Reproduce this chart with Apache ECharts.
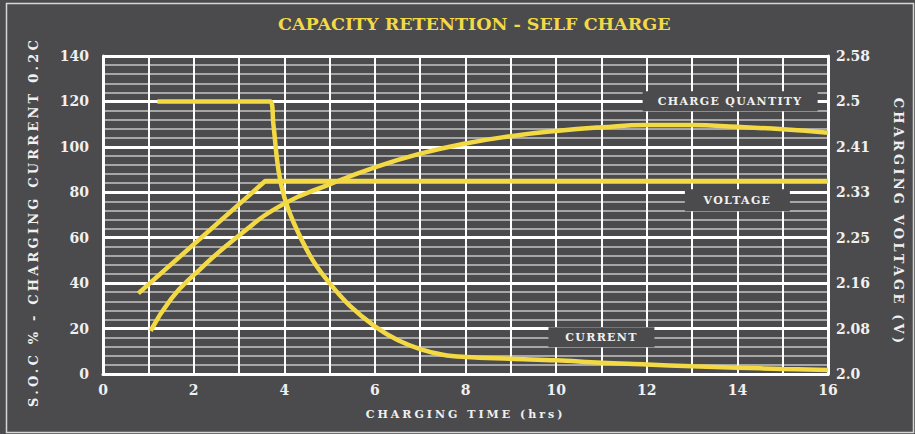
<!DOCTYPE html>
<html>
<head>
<meta charset="utf-8">
<title>Capacity retention - self charge</title>
<script src="https://cdn.jsdelivr.net/npm/echarts@6.0.0/dist/echarts.min.js"></script>
<style>
  html, body { margin: 0; padding: 0; background: #4b4b4d; }
  #chart { width: 915px; height: 434px; }
</style>
</head>
<body>
<div id="chart"></div>
<script>
// data (x = charging time in hrs)
var xTicks = [0, 2, 4, 6, 8, 10, 12, 14, 16];
var socTicks = [0, 20, 40, 60, 80, 100, 120, 140];
var voltTicks = ['2.0', '2.08', '2.16', '2.25', '2.33', '2.41', '2.5', '2.58'];

// S.O.C % (left axis)
var chargeQuantity = [
  [1.05, 19], [1.5, 33], [2, 43.5], [3, 61], [4, 75], [5, 83.5], [6, 91],
  [7, 97], [8, 101.5], [9, 104.7], [10, 107], [11, 108.6], [12, 109.6],
  [13, 109.6], [14, 108.8], [15, 107.7], [16, 106.2]
];
// charging current (left axis)
var current = [
  [1.2, 120], [3.69, 120], [3.76, 110], [3.87, 90], [4, 78], [4.2, 67],
  [4.6, 51], [5, 40], [5.45, 30], [6, 21], [6.5, 15], [7, 11], [7.5, 8.5],
  [8, 7.5], [9, 6.7], [10, 6.0], [11, 4.9], [12, 4.2], [13, 3.4], [14, 2.8],
  [15, 2.2], [16, 1.8]
];
// charging voltage in V (right axis)
var voltage = [
  [0.78, 2.147], [3.58, 2.352], [16, 2.352]
];

// text boxes sitting on the grid: [label, x, y on left axis]
var boxLabels = [
  ['CHARGE QUANTITY', 13.84, 120.1],
  ['VOLTAGE', 14.0, 76.5],
  ['CURRENT', 11.0, 16.2]
];

(function() {
  var bg = '#4b4b4d';
  var yellow = '#f3da45';
  var font = "'DejaVu Serif', serif";
  var myChart = echarts.init(document.getElementById('chart'), null, { renderer: 'svg' });

  var boxSizes = { 'CHARGE QUANTITY': [175, 20], 'VOLTAGE': [105, 22], 'CURRENT': [106, 20] };

  var option = {
    backgroundColor: bg,
    animation: false,
    textStyle: { fontFamily: font },
    title: {
      text: 'CAPACITY RETENTION - SELF CHARGE',
      left: 273,
      top: 10,
      textStyle: { color: yellow, fontSize: 17.5, fontWeight: 'bold', fontFamily: font }
    },
    graphic: [{
      type: 'rect',
      left: 4, top: 1,
      shape: { width: 907, height: 429 },
      style: { fill: 'none', stroke: '#d6d6d6', lineWidth: 1.5 },
      silent: true
    }],
    grid: { left: 103, right: 87, top: 56, bottom: 60 },
    xAxis: {
      type: 'value',
      min: 0, max: 16, interval: 1,
      name: 'CHARGING TIME (hrs)',
      nameLocation: 'middle',
      nameGap: 35,
      nameTextStyle: { color: '#f0f0f0', fontSize: 11, fontWeight: 'bold' },
      axisLine: { show: true, lineStyle: { color: '#ffffff', width: 3 } },
      axisTick: { show: false },
      axisLabel: {
        color: '#f0f0f0', fontSize: 14, fontWeight: 'bold', margin: 9,
        formatter: function(v) { return xTicks.indexOf(v) >= 0 ? String(v) : ''; }
      },
      splitLine: { show: true, lineStyle: { color: '#ffffff', width: 2 } }
    },
    yAxis: [{
      type: 'value',
      min: 0, max: 140, interval: 20,
      name: 'S.O.C % - CHARGING CURRENT 0.2C',
      nameLocation: 'middle',
      nameRotate: 90,
      nameGap: 63,
      nameTextStyle: { color: '#f0f0f0', fontSize: 13, fontWeight: 'bold', padding: [0, 14, 0, 0] },
      axisLine: { show: true, lineStyle: { color: '#ffffff', width: 3 } },
      axisTick: { show: false },
      axisLabel: {
        color: '#f0f0f0', fontSize: 14, fontWeight: 'bold', margin: 14,
        formatter: function(v) { return socTicks.indexOf(v) >= 0 ? String(v) : ''; }
      },
      splitLine: { show: true, lineStyle: { color: '#ffffff', width: 3 } },
      minorTick: { show: false, splitNumber: 5 },
      minorSplitLine: { show: true, lineStyle: { color: '#c4c4c4', width: 1.5 } }
    }, {
      type: 'value',
      min: 2.0, max: 2.58, interval: 0.58 / 7,
      name: 'CHARGING VOLTAGE (V)',
      nameLocation: 'middle',
      nameRotate: -90,
      nameGap: 64,
      nameTextStyle: { color: '#f0f0f0', fontSize: 13, fontWeight: 'bold', padding: [0, 0, 0, 14] },
      position: 'right',
      axisLine: { show: true, lineStyle: { color: '#ffffff', width: 3 } },
      axisTick: { show: false },
      axisLabel: {
        color: '#f0f0f0', fontSize: 14, fontWeight: 'bold', margin: 8,
        formatter: function(v) {
          var i = Math.round((v - 2.0) / (0.58 / 7));
          return voltTicks[i] || '';
        }
      },
      splitLine: { show: false }
    }],
    series: [{
      name: 'Charge quantity',
      type: 'line',
      yAxisIndex: 0,
      data: chargeQuantity,
      smooth: 0.5,
      showSymbol: false,
      lineStyle: { color: yellow, width: 4.5 }
    }, {
      name: 'Current',
      type: 'line',
      yAxisIndex: 0,
      data: current,
      smooth: 0.4,
      showSymbol: false,
      lineStyle: { color: yellow, width: 4.5 },
      markPoint: {
        silent: true,
        data: boxLabels.map(function(b) {
          return {
            coord: [b[1], b[2]],
            symbol: 'rect',
            symbolSize: boxSizes[b[0]],
            itemStyle: { color: bg },
            label: {
              show: true, position: 'inside', formatter: b[0],
              color: '#f0f0f0', fontSize: 11, fontWeight: 'bold', fontFamily: font
            }
          };
        })
      }
    }, {
      name: 'Voltage',
      type: 'line',
      yAxisIndex: 1,
      data: voltage,
      showSymbol: false,
      lineStyle: { color: yellow, width: 4.5 }
    }]
  };

  myChart.setOption(option);

  // the reference uses letter-spaced caps; svg text takes letter-spacing
  var spacing = {
    'S.O.C % - CHARGING CURRENT 0.2C': 3.2,
    'CHARGING VOLTAGE (V)': 3.2,
    'CHARGING TIME (hrs)': 3,
    'CHARGE QUANTITY': 1.3,
    'VOLTAGE': 1.3,
    'CURRENT': 1.3
  };
  function spaceLetters() {
    var texts = document.querySelectorAll('#chart text');
    for (var i = 0; i < texts.length; i++) {
      var s = spacing[texts[i].textContent];
      if (s) texts[i].setAttribute('letter-spacing', s);
    }
  }
  spaceLetters();
  myChart.on('finished', spaceLetters);
})();
</script>
</body>
</html>
